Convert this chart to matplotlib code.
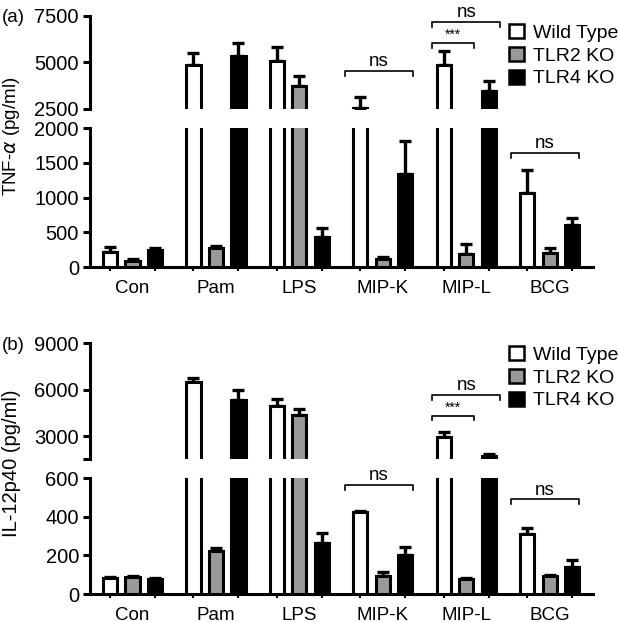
import numpy as np
import matplotlib
matplotlib.use("Agg")
import matplotlib.pyplot as plt
from matplotlib.patches import Patch

plt.rcParams['font.family'] = ['Liberation Sans', 'DejaVu Sans']

categories = ['Con', 'Pam', 'LPS', 'MIP-K', 'MIP-L', 'BCG']
series = ['Wild Type', 'TLR2 KO', 'TLR4 KO']

# (a) TNF-alpha, pg/ml
tnf_wt = [220, 4850, 5100, 2550, 4870, 1070]
tnf_wt_err = [70, 650, 750, 600, 770, 320]
tnf_tlr2 = [80, 280, 3750, 120, 190, 200]
tnf_tlr2_err = [30, 20, 520, 25, 140, 70]
tnf_tlr4 = [250, 5330, 430, 1340, 3450, 610]
tnf_tlr4_err = [30, 700, 130, 480, 550, 100]

# (b) IL-12p40, pg/ml
il_wt = [85, 6520, 4920, 425, 2960, 310]
il_wt_err = [5, 250, 450, 5, 330, 30]
il_tlr2 = [88, 222, 4350, 95, 80, 95]
il_tlr2_err = [5, 15, 420, 20, 5, 5]
il_tlr4 = [80, 5350, 265, 200, 1730, 140]
il_tlr4_err = [5, 600, 50, 45, 120, 35]

colors = ['white', '#999999', 'black']
offsets = [-0.27, 0.0, 0.27]
width = 0.17
x = np.arange(len(categories))

fig = plt.figure(figsize=(6.19, 6.22), dpi=100)

left, w = 0.1454, 0.8126
ax_a_top = fig.add_axes([left, 0.8248, w, 0.1495])
ax_a_bot = fig.add_axes([left, 0.5707, w, 0.2235])
ax_b_top = fig.add_axes([left, 0.2616, w, 0.1865])
ax_b_bot = fig.add_axes([left, 0.0450, w, 0.1860])

FS = 13.5
LW = 2.2


def draw_bars(ax, vals, errs):
    for i in range(3):
        ax.errorbar(x + offsets[i], vals[i], yerr=[np.zeros(len(x)), errs[i]],
                    fmt='none', ecolor='black', elinewidth=2.4, capsize=4.5,
                    capthick=2.4, zorder=2)
        ax.bar(x + offsets[i], vals[i], width, color=colors[i],
               edgecolor='black', linewidth=LW, zorder=3)


def style(ax, top):
    ax.set_xlim(-0.51, 5.52)
    for s in ['top', 'right']:
        ax.spines[s].set_visible(False)
    ax.spines['left'].set_linewidth(2.2)
    ax.tick_params(axis='y', direction='out', length=5, width=2.2,
                   labelsize=14.5, pad=3)
    if top:
        ax.spines['bottom'].set_visible(False)
        ax.set_xticks([])
    else:
        ax.spines['bottom'].set_linewidth(2.2)
        ax.set_xticks(x)
        ax.set_xticklabels(categories)
        ax.tick_params(axis='x', which='major', length=0, labelsize=FS, pad=9)
        ax.set_xticks(np.concatenate([x + o for o in offsets]), minor=True)
        ax.tick_params(axis='x', which='minor', length=3, width=1.5)


def bracket(ax, x0, x1, y, h, label, fs):
    ax.plot([x0, x0, x1, x1], [y - h, y, y, y - h], color='black', lw=1.2,
            clip_on=False, zorder=5)
    ax.annotate(label, ((x0 + x1) / 2, y), xytext=(0, 0.5),
                textcoords='offset points', ha='center', va='bottom',
                fontsize=fs, annotation_clip=False)


a_vals = [tnf_wt, tnf_tlr2, tnf_tlr4]
a_errs = [tnf_wt_err, tnf_tlr2_err, tnf_tlr4_err]
b_vals = [il_wt, il_tlr2, il_tlr4]
b_errs = [il_wt_err, il_tlr2_err, il_tlr4_err]

for ax in (ax_a_top, ax_a_bot):
    draw_bars(ax, a_vals, a_errs)
for ax in (ax_b_top, ax_b_bot):
    draw_bars(ax, b_vals, b_errs)

ax_a_top.set_ylim(2500, 7500)
ax_a_top.set_yticks([2500, 5000, 7500])
ax_a_bot.set_ylim(0, 2000)
ax_a_bot.set_yticks([0, 500, 1000, 1500, 2000])

ax_b_top.set_ylim(1500, 9000)
ax_b_top.set_yticks([1500, 3000, 6000, 9000])
ax_b_top.set_yticklabels(['', '3000', '6000', '9000'])
ax_b_bot.set_ylim(0, 600)
ax_b_bot.set_yticks([0, 200, 400, 600])

style(ax_a_top, True)
style(ax_a_bot, False)
style(ax_b_top, True)
style(ax_b_bot, False)

# significance brackets
bracket(ax_a_top, 2.55, 3.36, 4560, 270, 'ns', FS)
bracket(ax_a_top, 3.59, 4.41, 7190, 270, 'ns', FS)
bracket(ax_a_top, 3.59, 4.09, 6065, 270, '***', 10)
bracket(ax_a_bot, 4.54, 5.35, 1645, 75, 'ns', FS)

bracket(ax_b_bot, 2.55, 3.36, 565, 26, 'ns', FS)
bracket(ax_b_top, 3.59, 4.41, 5680, 320, 'ns', FS)
bracket(ax_b_top, 3.59, 4.09, 4330, 320, '***', 10)
bracket(ax_b_bot, 4.54, 5.35, 491, 26, 'ns', FS)

handles = [Patch(facecolor=c, edgecolor='black', linewidth=1.8) for c in colors]
for ypos in (1 - 24 / 622, 1 - 346 / 622):
    fig.legend(handles, series, loc='upper left',
               bbox_to_anchor=(509 / 619, ypos), bbox_transform=fig.transFigure,
               frameon=False, fontsize=14, handlelength=0.75, handleheight=0.75,
               handletextpad=0.5, labelspacing=0.25, borderpad=0,
               borderaxespad=0)

fig.text(12 / 619, 1 - 136 / 622, r'TNF-$\alpha$ (pg/ml)', rotation=90,
         ha='center', va='center', fontsize=13.5)
fig.text(12 / 619, 1 - 463 / 622, 'IL-12p40 (pg/ml)', rotation=90,
         ha='center', va='center', fontsize=14.5)
fig.text(2 / 619, 1 - 18 / 622, '(a)', ha='left', va='center', fontsize=FS)
fig.text(2 / 619, 1 - 345 / 622, '(b)', ha='left', va='center', fontsize=FS)

fig.savefig('out.png', dpi=100)
